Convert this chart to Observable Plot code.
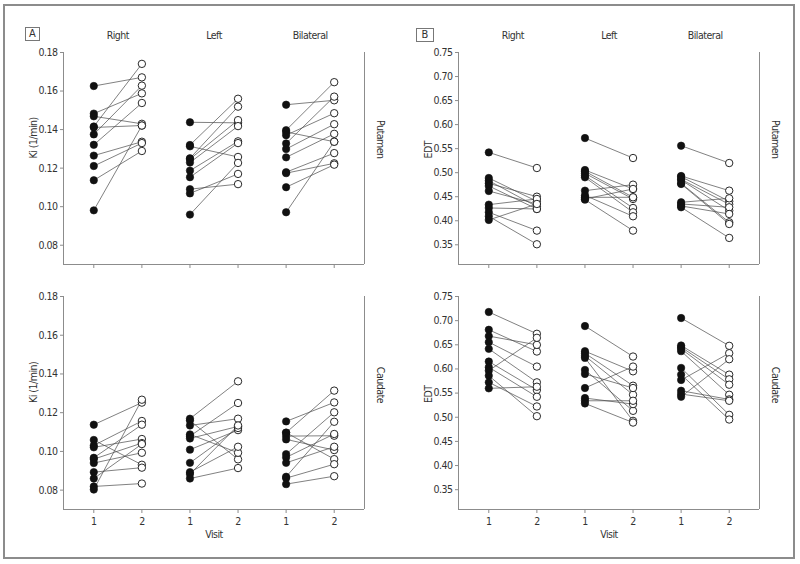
<!DOCTYPE html>
<html><head><meta charset="utf-8">
<script src="https://cdn.jsdelivr.net/npm/d3@7"></script>
<script src="https://cdn.jsdelivr.net/npm/@observablehq/plot@0.6"></script>
<style>
body{margin:0;background:#fff;}
#wrap{position:relative;width:800px;height:564px;overflow:hidden;background:#fff;
  font-family:"Liberation Sans Narrow","DejaVu Sans Condensed","Roboto Condensed",sans-serif;color:#333;}
#wrap svg{position:absolute;}
#wrap svg text{letter-spacing:-0.5px;}
.frame{position:absolute;left:3px;top:4px;width:792px;height:555px;border:2px solid #8c8c8c;box-sizing:border-box;}
.tag{position:absolute;height:12px;border:1px solid #777;font-size:11px;line-height:12px;text-align:center;}
</style></head>
<body><div id="wrap"><div class="frame"></div>
<div class="tag" style="left:25px;top:27px;width:13px;">A</div>
<div class="tag" style="left:416px;top:28px;width:16px;">B</div>
</div>
<script>
// ---- data: [visit 1, visit 2] pairs per subject ----
const groups = ["Right", "Left", "Bilateral"];
const regions = ["Putamen", "Caudate"];
const kiTicks = [0.08, 0.10, 0.12, 0.14, 0.16, 0.18];
const edtTicks = [0.35, 0.40, 0.45, 0.50, 0.55, 0.60, 0.65, 0.70, 0.75];
const visitTicks = [1, 2, 1, 2, 1, 2];

const kiPutamenRight = [[0.1626,0.1671],[0.1483,0.1588],[0.1469,0.1430],[0.1416,0.1741],[0.1411,0.1421],[0.1375,0.1628],[0.1321,0.1538],[0.1265,0.1337],[0.1211,0.1330],[0.1137,0.1289],[0.0981,0.1421]];
const kiPutamenLeft = [[0.1438,0.1435],[0.1320,0.1560],[0.1313,0.1258],[0.1251,0.1519],[0.1247,0.1449],[0.1229,0.1418],[0.1187,0.1339],[0.1153,0.1330],[0.1091,0.1117],[0.1069,0.1170],[0.0959,0.1227]];
const kiPutamenBilateral = [[0.1529,0.1552],[0.1397,0.1646],[0.1388,0.1337],[0.1371,0.1485],[0.1328,0.1571],[0.1299,0.1428],[0.1256,0.1378],[0.1179,0.1278],[0.1174,0.1225],[0.1101,0.1218],[0.0971,0.1337]];
const kiCaudateRight = [[0.1138,0.1252],[0.1059,0.0931],[0.1031,0.1157],[0.1021,0.1064],[0.0967,0.1138],[0.0960,0.1043],[0.0940,0.0993],[0.0893,0.0916],[0.0860,0.1038],[0.0819,0.0834],[0.0803,0.1267]];
const kiCaudateLeft = [[0.1169,0.1362],[0.1159,0.0959],[0.1134,0.1169],[0.1088,0.0993],[0.1079,0.1250],[0.1067,0.1129],[0.1009,0.1110],[0.0941,0.1121],[0.0893,0.1024],[0.0883,0.1134],[0.0860,0.0914]];
const kiCaudateBilateral = [[0.1155,0.1253],[0.1097,0.1314],[0.1097,0.0960],[0.1079,0.1081],[0.1062,0.1007],[0.0986,0.1202],[0.0969,0.1090],[0.0941,0.1024],[0.0869,0.1153],[0.0862,0.0934],[0.0831,0.0872]];

const edtPutamenRight = [[0.5422,0.5097],[0.4889,0.4404],[0.4834,0.4294],[0.4778,0.4501],[0.4723,0.4245],[0.4619,0.4349],[0.4335,0.4453],[0.4266,0.4245],[0.4176,0.3795],[0.4093,0.3511],[0.4017,0.4349]];
const edtPutamenLeft = [[0.5720,0.5305],[0.5055,0.4661],[0.5028,0.4488],[0.4986,0.4453],[0.4938,0.4266],[0.4903,0.4176],[0.4626,0.4751],[0.4529,0.4093],[0.4488,0.4488],[0.4453,0.4661],[0.4439,0.3795]];
const edtPutamenBilateral = [[0.5561,0.5201],[0.4931,0.4626],[0.4917,0.4404],[0.4861,0.4342],[0.4848,0.4211],[0.4778,0.3968],[0.4765,0.3933],[0.4384,0.4467],[0.4349,0.4280],[0.4308,0.4141],[0.4280,0.3643]];
const edtCaudateRight = [[0.7179,0.6728],[0.6811,0.6361],[0.6680,0.6499],[0.6555,0.6049],[0.6416,0.5723],[0.6153,0.5563],[0.6035,0.5424],[0.5965,0.6645],[0.5861,0.5022],[0.5723,0.5223],[0.5598,0.5632]];
const edtCaudateLeft = [[0.6888,0.6257],[0.6368,0.5951],[0.6326,0.5653],[0.6270,0.5466],[0.6229,0.4925],[0.5979,0.5133],[0.5896,0.5605],[0.5605,0.6049],[0.5397,0.5272],[0.5341,0.5341],[0.5286,0.4890]];
const edtCaudateBilateral = [[0.7054,0.6479],[0.6485,0.5882],[0.6451,0.5785],[0.6416,0.5674],[0.6368,0.5466],[0.6021,0.5050],[0.5882,0.4953],[0.5771,0.6326],[0.5549,0.5369],[0.5480,0.5341],[0.5424,0.6201]];

const xDomain = [0.37, 6.63];
const font = '"Liberation Sans Narrow","DejaVu Sans Condensed","Roboto Condensed",sans-serif';

function panel(o) {
  const links = [], v1 = [], v2 = [];
  o.sets.forEach((set, gi) => {
    set.forEach(([a, b]) => {
      links.push({x1: gi * 2 + 1, y1: a, x2: gi * 2 + 2, y2: b});
      v1.push({x: gi * 2 + 1, y: a});
      v2.push({x: gi * 2 + 2, y: b});
    });
  });
  const marks = [
    Plot.ruleX(xDomain, {stroke: "#8c8c8c", strokeWidth: 1}),
    Plot.ruleY([o.yDomain[0]], {stroke: "#8c8c8c", strokeWidth: 1}),
    Plot.axisY({ticks: o.yTicks, tickSize: 3, tickPadding: 3, tickFormat: d3.format(".2f"), label: null, stroke: "#8c8c8c", fill: "#333"}),
    Plot.axisX({ticks: [1, 2, 3, 4, 5, 6], tickSize: 4, tickPadding: 4, label: null, stroke: "#8c8c8c", fill: "#333",
      tickFormat: o.showX ? (d => String(visitTicks[d - 1])) : (() => "")}),
    Plot.link(links, {x1: "x1", y1: "y1", x2: "x2", y2: "y2", stroke: "#4a4a4a", strokeWidth: 0.7}),
    Plot.dot(v1, {x: "x", y: "y", r: 3.7, fill: "#111", stroke: "#111", strokeWidth: 0.6}),
    Plot.dot(v2, {x: "x", y: "y", r: 3.7, fill: "#fff", stroke: "#111", strokeWidth: 0.9}),
    Plot.text([o.yLabel], {frameAnchor: "left", dx: o.yLabelDx, rotate: -90, fill: "#333", fontSize: 10.5}),
    Plot.text([o.region], {frameAnchor: "right", dx: 16, rotate: 90, fill: "#333", fontSize: 10.5})
  ];
  if (o.showHeaders) {
    marks.push(Plot.text(groups, {x: (d, i) => i * 2 + 1.5, frameAnchor: "top", dy: -21, fill: "#333", fontSize: 10.5}));
  }
  if (o.showX) {
    marks.push(Plot.text(["Visit"], {frameAnchor: "bottom", dy: 28, fill: "#333", fontSize: 10.5}));
  }
  const svg = Plot.plot({
    width: o.width, height: o.height,
    marginLeft: o.ml, marginRight: o.mr, marginTop: o.mt, marginBottom: o.mb,
    x: {domain: xDomain},
    y: {domain: o.yDomain},
    style: {fontFamily: font, fontSize: "10.5px", color: "#333", background: "transparent", overflow: "visible"},
    marks
  });
  svg.style.left = o.left + "px";
  svg.style.top = o.top + "px";
  document.getElementById("wrap").appendChild(svg);
}

const kiDomain = [0.07, 0.18];
const edtDomain = [0.309, 0.75];

panel({sets: [kiPutamenRight, kiPutamenLeft, kiPutamenBilateral], yDomain: kiDomain, yTicks: kiTicks, yLabel: "Ki (1/min)", yLabelDx: -30,
  region: regions[0], left: 0, top: 0, width: 400, height: 270, ml: 63, mr: 36, mt: 52, mb: 6, showHeaders: true, showX: false});
panel({sets: [kiCaudateRight, kiCaudateLeft, kiCaudateBilateral], yDomain: kiDomain, yTicks: kiTicks, yLabel: "Ki (1/min)", yLabelDx: -30,
  region: regions[1], left: 0, top: 270, width: 400, height: 294, ml: 63, mr: 36, mt: 26, mb: 55, showHeaders: false, showX: true});
panel({sets: [edtPutamenRight, edtPutamenLeft, edtPutamenBilateral], yDomain: edtDomain, yTicks: edtTicks, yLabel: "EDT", yLabelDx: -30,
  region: regions[0], left: 400, top: 0, width: 400, height: 270, ml: 58, mr: 41, mt: 52, mb: 6, showHeaders: true, showX: false});
panel({sets: [edtCaudateRight, edtCaudateLeft, edtCaudateBilateral], yDomain: edtDomain, yTicks: edtTicks, yLabel: "EDT", yLabelDx: -30,
  region: regions[1], left: 400, top: 270, width: 400, height: 294, ml: 58, mr: 41, mt: 26, mb: 55, showHeaders: false, showX: true});
</script>
</body></html>
